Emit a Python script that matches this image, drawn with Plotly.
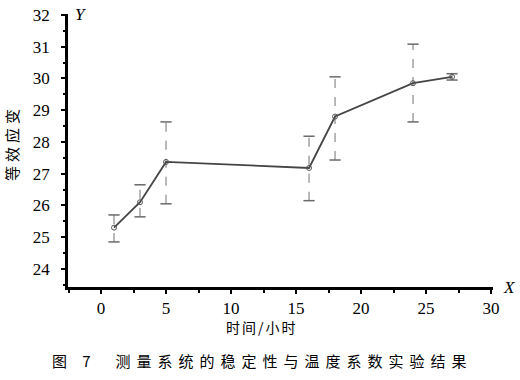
import plotly.graph_objects as go

# Data
time_h = [1, 3, 5, 16, 18, 24, 27]
strain = [25.30, 26.10, 27.37, 27.18, 28.80, 29.85, 30.05]
err_hi = [25.70, 26.65, 28.63, 28.18, 30.05, 31.08, 30.15]
err_lo = [24.85, 25.64, 26.05, 26.15, 27.43, 28.63, 29.95]

x_ticks = [0, 5, 10, 15, 20, 25, 30]
y_ticks = [24, 25, 26, 27, 28, 29, 30, 31, 32]

x_title = "时间/小时"
y_title = "等效应变"
caption = "图 7  测量系统的稳定性与温度系数实验结果"

fig = go.Figure()

# dashed error bars built from the data arrays
ex, ey = [], []
for xv, lo, hi in zip(time_h, err_lo, err_hi):
    ex += [xv, xv, None]
    ey += [lo, hi, None]
fig.add_trace(go.Scatter(x=ex, y=ey, mode="lines",
                         line=dict(color="#8a8a8a", width=1.2, dash="dash"),
                         hoverinfo="skip", showlegend=False))
# caps
fig.add_trace(go.Scatter(x=time_h + time_h, y=err_hi + err_lo, mode="markers",
                         marker=dict(symbol="line-ew", size=8,
                                     line=dict(color="#6a6a6a", width=1.5)),
                         hoverinfo="skip", showlegend=False))
# main line
fig.add_trace(go.Scatter(x=time_h, y=strain, mode="lines+markers",
                         line=dict(color="#454545", width=1.8),
                         marker=dict(symbol="circle-open", size=5,
                                     color="#555555", line=dict(width=1)),
                         showlegend=False))

serif = "Liberation Serif, Times New Roman, serif"
tick_font = dict(family=serif, size=17, color="black")
fig.update_xaxes(range=[-2.54, 30.15], tickvals=x_ticks, ticktext=[str(v) for v in x_ticks],
                 showline=True, linecolor="black", linewidth=2.5, mirror=False,
                 ticks="outside", ticklen=4, tickwidth=2, tickcolor="black",
                 minor=dict(dtick=2.5, tick0=0, ticks="outside", ticklen=3, tickwidth=1.5, tickcolor="black"),
                 showgrid=False, zeroline=False, tickfont=tick_font, ticklabelstandoff=0,
                 automargin=False)
fig.update_yaxes(range=[23.43, 32.03], tickvals=y_ticks, ticktext=[str(v) for v in y_ticks],
                 showline=True, linecolor="black", linewidth=2.5, mirror=False,
                 ticks="outside", ticklen=4, tickwidth=2, tickcolor="black",
                 minor=dict(dtick=0.5, tick0=24, ticks="outside", ticklen=2, tickwidth=1.5, tickcolor="black"),
                 showgrid=False, zeroline=False, tickfont=tick_font, ticklabelstandoff=8,
                 automargin=False)

cjk = "Noto Sans CJK SC"
anns = [
    dict(text="<i>Y</i>", x=0.012, y=1.0, xanchor="left", yanchor="middle",
         font=dict(family=serif, size=17, color="black")),
    dict(text="<i>X</i>", x=1.018, y=0.0, xanchor="left", yanchor="middle",
         font=dict(family=serif, size=17, color="black")),
    dict(text="<span style='letter-spacing:2px'>" + x_title + "</span>", x=(262 - 68) / 425,
         y=(287 - 327) / 273, xanchor="center", yanchor="middle",
         font=dict(family=cjk, size=14, color="black")),
    dict(text="<span style='letter-spacing:6px'>" + caption + "</span>", x=(262 - 68) / 425,
         y=(287 - 360) / 273, xanchor="center", yanchor="middle",
         font=dict(family=cjk, size=15, color="black")),
    dict(text="<span style='letter-spacing:4px'>" + y_title + "</span>", x=(11 - 68) / 425,
         y=(287 - 143) / 273, xanchor="center", yanchor="middle", textangle=-90,
         font=dict(family=cjk, size=15, color="black")),
]
for a in anns:
    a.update(xref="paper", yref="paper", showarrow=False)

fig.update_layout(width=520, height=380, margin=dict(l=68, r=27, t=14, b=93, autoexpand=False),
                  paper_bgcolor="white", plot_bgcolor="white",
                  annotations=anns, showlegend=False)

# remove the default page margin so the figure sits at the window's corner
fig.write_html("out.html", config={"displayModeBar": False},
               post_script="document.body.style.margin='0';document.body.style.overflow='hidden';")
